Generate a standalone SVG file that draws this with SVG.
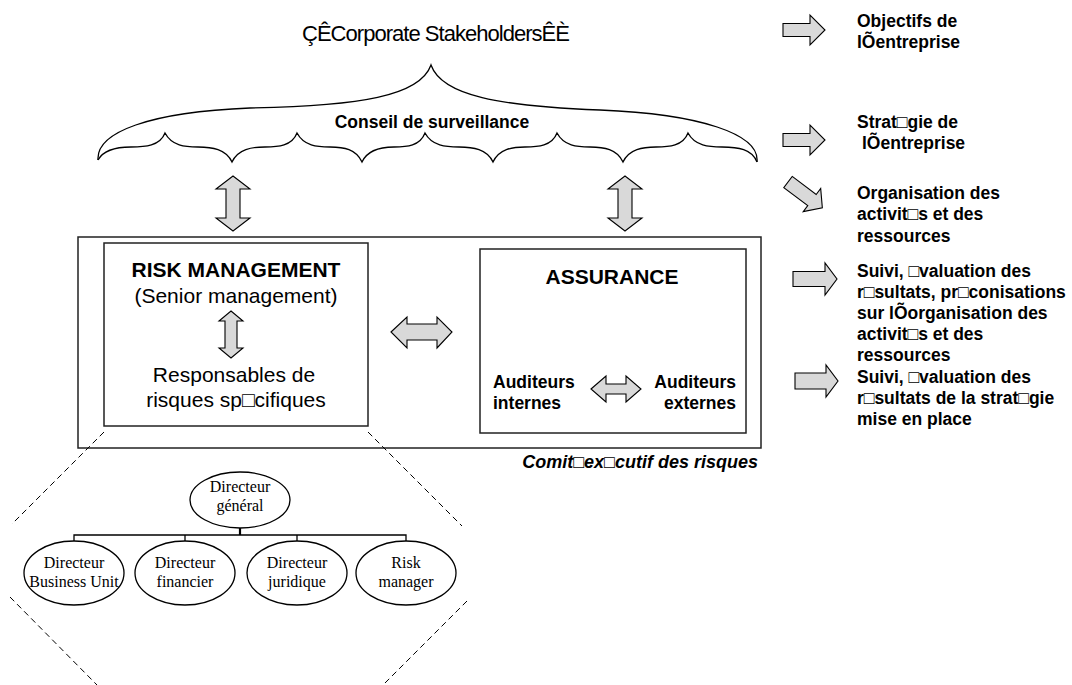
<svg xmlns="http://www.w3.org/2000/svg" width="1072" height="685" viewBox="0 0 1072 685">
<style>
.sans{font-family:"Liberation Sans",Arial,sans-serif;fill:#000}
.b{font-weight:bold}
.serif{font-family:"Liberation Serif","Times New Roman",serif;font-size:16px;fill:#000}
.arr{fill:#d9d9d9;stroke:#000;stroke-width:1.1;stroke-linejoin:miter}
.box{fill:#fff;stroke:#222;stroke-width:1.5}
.line{fill:none;stroke:#000;stroke-width:1.3}
.dash{fill:none;stroke:#000;stroke-width:1;stroke-dasharray:6 4}
.ell{fill:#fff;stroke:#000;stroke-width:1.3}
.rt{font-size:17.5px;font-weight:bold}
</style>
<rect width="1072" height="685" fill="#fff"/>

<g id="stakeholders">
<text class="sans" x="302" y="41" font-size="22" textLength="268" lengthAdjust="spacing">ÇÊCorporate StakeholdersÊÈ</text>
</g>

<g id="conseil">
<path class="line" d="M98,160 C96,132 150,112 250,108 C360,106 420,96 431,65 C442,96 500,106 600,110 C700,114 760,134 757,162"/>
<path class="line" d="M98,160 C104,149 118,147 131,147 C145,147 160,146 165,133 C172,146 185,147 198,147 C212,147 226,149 232,162 C238,149 252,147 265,147 C278,147 292,146 297,133 C304,146 317,147 330,147 C344,147 356,149 362,162 C368,149 382,147 394,147 C407,147 420,146 425,133 C432,146 446,147 459,147 C473,147 487,149 493,162 C499,149 512,147 525,147 C538,147 552,146 557,133 C564,146 577,147 590,147 C604,147 617,149 623,162 C629,149 643,147 656,147 C669,147 683,146 688,133 C695,146 709,147 722,147 C738,147 752,149 757,162"/>
<text class="sans b" x="432" y="128" font-size="17.5" text-anchor="middle">Conseil de surveillance</text>
</g>

<g id="comite">
<rect class="box" x="78" y="237" width="683" height="211"/>
<text class="sans b" x="758" y="468" font-size="18" font-style="italic" text-anchor="end">Comit□ex□cutif des risques</text>
</g>

<g id="risk-management">
<rect class="box" x="104" y="243" width="264" height="183"/>
<text class="sans b" x="236" y="277" font-size="21" text-anchor="middle">RISK MANAGEMENT</text>
<text class="sans" x="236" y="303" font-size="21" text-anchor="middle">(Senior management)</text>
<text class="sans" x="234" y="382" font-size="21" text-anchor="middle">Responsables de</text>
<text class="sans" x="236" y="407" font-size="21" text-anchor="middle">risques sp□cifiques</text>
</g>

<g id="assurance">
<rect class="box" x="480" y="249" width="266" height="184"/>
<text class="sans b" x="612" y="284" font-size="21" text-anchor="middle">ASSURANCE</text>
<text class="sans b" x="493" y="388" font-size="17.5">Auditeurs</text>
<text class="sans b" x="493" y="409" font-size="17.5">internes</text>
<text class="sans b" x="736" y="388" font-size="17.5" text-anchor="end">Auditeurs</text>
<text class="sans b" x="736" y="409" font-size="17.5" text-anchor="end">externes</text>
</g>

<g id="org-chart">
<g id="dg"><ellipse class="ell" cx="240" cy="500" rx="50" ry="28"/>
<text class="serif" x="240" y="492" text-anchor="middle">Directeur</text>
<text class="serif" x="240" y="511" text-anchor="middle">général</text></g>
<g id="dbu"><ellipse class="ell" cx="74" cy="573" rx="50" ry="32"/>
<text class="serif" x="74" y="568" text-anchor="middle">Directeur</text>
<text class="serif" x="74" y="587" text-anchor="middle">Business Unit</text></g>
<g id="dfin"><ellipse class="ell" cx="185" cy="573" rx="50" ry="32"/>
<text class="serif" x="185" y="568" text-anchor="middle">Directeur</text>
<text class="serif" x="185" y="587" text-anchor="middle">financier</text></g>
<g id="djur"><ellipse class="ell" cx="297" cy="573" rx="50" ry="32"/>
<text class="serif" x="297" y="568" text-anchor="middle">Directeur</text>
<text class="serif" x="297" y="587" text-anchor="middle">juridique</text></g>
<g id="rm"><ellipse class="ell" cx="406" cy="573" rx="50" ry="32"/>
<text class="serif" x="406" y="568" text-anchor="middle">Risk</text>
<text class="serif" x="406" y="587" text-anchor="middle">manager</text></g>
</g>

<g id="obj1"><text class="sans rt" x="857" y="27">Objectifs de</text><text class="sans rt" x="857" y="48">lÕentreprise</text></g>
<g id="obj2"><text class="sans rt" x="857" y="128">Strat□gie de</text><text class="sans rt" x="862" y="149">lÕentreprise</text></g>
<g id="obj3"><text class="sans rt" x="857" y="199">Organisation des</text><text class="sans rt" x="857" y="220">activit□s et des</text><text class="sans rt" x="857" y="242">ressources</text></g>
<g id="obj4"><text class="sans rt" x="857" y="277">Suivi, □valuation des</text><text class="sans rt" x="857" y="298">r□sultats, pr□conisations</text><text class="sans rt" x="857" y="319">sur lÕorganisation des</text><text class="sans rt" x="857" y="340">activit□s et des</text><text class="sans rt" x="857" y="361">ressources</text></g>
<g id="obj5"><text class="sans rt" x="857" y="383">Suivi, □valuation des</text><text class="sans rt" x="857" y="404">r□sultats de la strat□gie</text><text class="sans rt" x="857" y="425">mise en place</text></g>

<g id="connectors">
<polygon class="arr" points="233,176 250,189 240,189 240,218 250,218 233,231 216,218 226,218 226,189 216,189"/>
<polygon class="arr" points="625,176 642,189 632,189 632,218 642,218 625,231 608,218 618,218 618,189 608,189"/>
<polygon class="arr" points="231,311 243,321 237,321 237,348 243,348 231,358 219,348 225,348 225,321 219,321"/>
<polygon class="arr" points="391,332 407,317 407,324 437,324 437,317 452,332 437,348 437,340 407,340 407,348"/>
<polygon class="arr" points="591,389 606,376 606,384 626,384 626,376 641,389 626,402 626,394 606,394 606,402"/>
<polygon class="arr" points="783,23.5 810,23.5 810,15 825,30 810,45 810,36.5 783,36.5"/>
<polygon class="arr" points="783,133.5 810,133.5 810,125 825,140 810,155 810,146.5 783,146.5"/>
<polygon class="arr" transform="translate(788,182) rotate(37)" points="0,-7 30,-7 30,-14.5 43,0 30,14.5 30,7 0,7"/>
<polygon class="arr" points="793,271.5 825,271.5 825,263 837,279 825,295 825,286.5 793,286.5"/>
<polygon class="arr" points="795,373 826,373 826,365 838,381 826,397 826,389 795,389"/>
<path class="line" d="M74,541 V535 H406 V541 M185,535 V541 M297,535 V541"/>
<path d="M240,528 V535" stroke="#000" stroke-width="2.2"/>
<path class="dash" d="M104,432 L12,524 M10,597 L97,685 M368,432 L462,526 M467,601 L383,685"/>
</g>
</svg>
